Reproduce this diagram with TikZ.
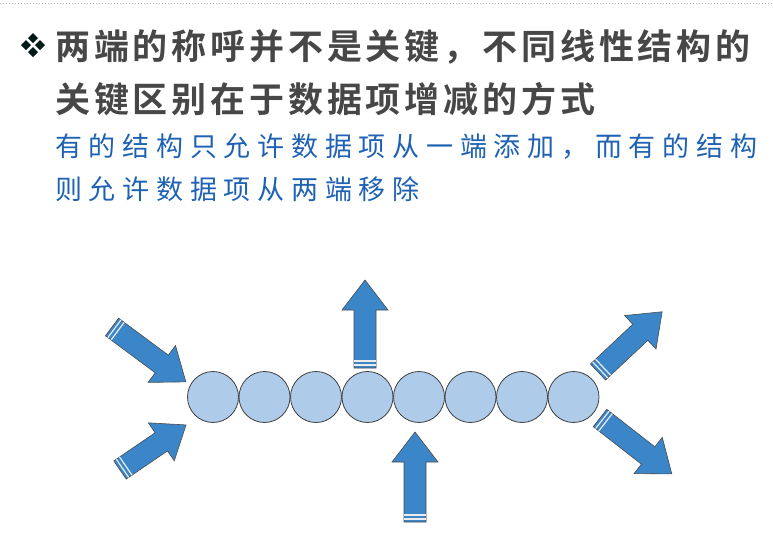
\documentclass[tikz,border=0pt]{standalone}
\usepackage{fontspec}
\newfontfamily\cjk[LetterSpace=25]{Noto Sans CJK SC}
\newfontfamily\cjkb[LetterSpace=11]{Noto Sans CJK SC Bold}
\begin{document}
\begin{tikzpicture}[x=1pt,y=-1pt,
  cell/.style={circle,draw=black!75,fill=cellblue,minimum size=51pt,inner sep=0pt,line width=0.8pt},
  title/.style={anchor=west,inner sep=0pt,text=black!72,font=\cjkb\fontsize{35}{40}\selectfont},
  sub/.style={anchor=west,inner sep=0pt,text=subblue,font=\cjk\fontsize{27}{30}\selectfont}]
\definecolor{arrowblue}{HTML}{3A86C8}
\definecolor{cellblue}{HTML}{AECBEA}
\definecolor{subblue}{HTML}{1F62B4}
\useasboundingbox (0,0) rectangle (773,549);
\draw[black!30,dotted,line width=1pt] (0,3) -- (773,3);
% bullet
\foreach \dx/\dy in {0/-7,-7/0,7/0,0/7}
  \fill[black!80!teal] (33+\dx,45+\dy) +(0,-5) -- +(5,0) -- +(0,5) -- +(-5,0) -- cycle;
\node[title] (t1) at (55,47) {两端的称呼并不是关键，不同线性结构的};
\node[title] (t2) at (55,99) {关键区别在于数据项增减的方式};
\node[sub] (s1) at (55,147) {有的结构只允许数据项从一端添加，而有的结构};
\node[sub] (s2) at (55,189) {则允许数据项从两端移除};
% cells
\foreach \i in {0,...,7} \node[cell] (c\i) at (213+51.5*\i,397) {};
% block arrows: tail x,y ; angle ; length
\newcommand\blockarrow[4]{%
  \begin{scope}[shift={(#1,#2)},rotate=#3]
  \filldraw[fill=arrowblue,draw=black!70,line width=0.6pt,line join=miter]
    (0,-11) -- (#4-30,-11) -- (#4-30,-23) -- (#4,0) -- (#4-30,23) -- (#4-30,11) -- (0,11) -- cycle;
  \draw[white!85!gray,line width=1.2pt] (3,-11) -- (3,11) (7,-11) -- (7,11);
  \end{scope}}
\blockarrow{365}{368}{90}{88}
\blockarrow{415}{522}{90}{90}
\blockarrow{112}{327}{-36.6}{92}
\blockarrow{120}{470}{34.3}{80}
\blockarrow{598}{372}{43.2}{88}
\blockarrow{600}{418}{-37.9}{91}
\end{tikzpicture}
\end{document}
